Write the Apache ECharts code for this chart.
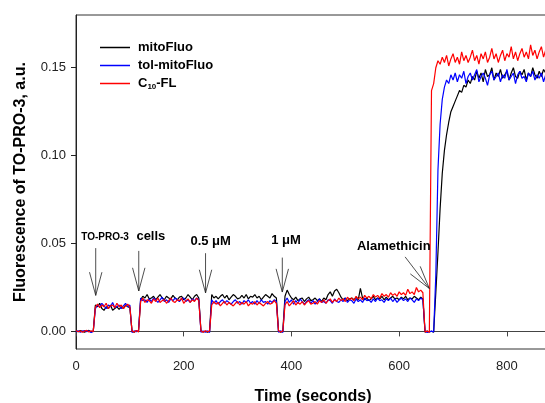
<!DOCTYPE html>
<html><head><meta charset="utf-8">
<script src="https://cdn.jsdelivr.net/npm/echarts@6/dist/echarts.min.js"></script>
<style>html,body{margin:0;padding:0;background:#fff}#c{width:545px;height:403px}</style>
</head><body><div id="c"></div>
<script>
// sampling interval of the traces (seconds between consecutive values)
const SAMPLE_STEP_S = 4;
// Fluorescence values in milli a.u. (1 = 0.001 a.u.), one value every SAMPLE_STEP_S seconds from t = 0
const mitoFluo = [
0.3,-0.2,0.5,0,-0.4,0.2,0.6,-0.3,0.1,
15,14,16,13,12,14,13,15,12,13,14,12.5,14,13,15,14,13.5,
0.2,-0.5,0.4,-0.2,
18,20,19,21,18.5,19,20,18,19.5,21,19,18,20,19,18.5,20.5,19,18,19.5,20,18,19,21,19.5,18,20,21,19,
0.4,-0.3,0.1,-0.5,0.3,
21,19,20,18.5,20,21,19,20.5,18,19.5,21,20,18.5,19,20.5,19,21,18.5,20,19.5,21,19,20,18,19.5,21,20,19,21.5,20,19,
0.2,-0.4,0.3,
20,23.5,21,19,18,19.5,17.5,18.5,19,17,18.5,19.5,17.5,18,19,17.5,18.5,17,19,18,21,22.5,20,23,24,22,19.5,18,19,17.5,
18.5,19,18,19.5,18,24.5,19,18,19,17.5,18.5,20,18,19,18.5,20,18,19.5,18,19,20,18.5,19,18,19.5,18.5,20,18,19,18.5,20,19,18,19.5,18.5,
-0.5,0.2,-0.3,
0.1,-0.4,
22,45,70,90,103,112,119,125,128,131,134,137,136,140,139,143,141,145,
143,148,144,147,142,149,145,146,150,143,147,145,149,144,146,148,143,147,150,145,144,148,146,149,143,147,145,150,146,144,148,145,149,147
];
const tolMitoFluo = [
-0.3,0.4,-0.5,0.2,0.5,-0.2,0.3,-0.6,0,
13,15,14,16,14.5,13,15,14,16.5,13.5,14,15,13,14.5,16,14,15,
-0.6,0.3,-0.2,0.5,
19,17.5,18,16.5,18.5,17,19,18,16.5,18,19.5,17,18,16.5,18.5,17.5,19,18,17,18.5,19,17,18,16.5,18.5,17.5,19,18,
-0.5,0.2,-0.4,0.3,-0.6,
18,16,17.5,15.5,17,18,16,17.5,16.5,15.5,17,18,16,17,15.5,17.5,16.5,18,16,17,15.5,17.5,16,18,16.5,17,15.5,17.5,16.5,18,17,
-0.4,0.3,-0.6,
17,19,16.5,18,15.5,17.5,16,18.5,17,15.5,17,18,16,17.5,15.5,17,18.5,16.5,17,16,18,17.5,16,18.5,17,16.5,18,17,19,16.5,
18,17.5,16,18.5,17,18,16.5,19,17.5,18,16.5,18.5,17,19,17.5,18,16.5,18.5,17.5,19,17,18.5,16.5,18,19,17.5,18.5,17,19,18,16.5,18.5,17.5,19,18,
0.3,-0.6,-0.2,
0.2,-0.3,
32,92,118,132,139,143,141,146,143,
147,142,146,144,148,141,145,147,143,146,149,142,145,147,144,140,146,148,143,145,147,142,146,144,149,143,145,147,141,146,148,144,145,142,147,145,148,143,146,144,147,142,146
];
const c10FL = [
0.5,-0.2,0.3,-0.5,0.2,0.6,-0.3,0.4,-0.1,
14,15.5,13.5,15,14,16,13,14.5,15,13.5,16,14,15,13,14.5,15.5,14,
0.3,-0.4,0.5,-0.3,
17,19,16.5,18,17.5,16,18.5,17,19,16.5,17.5,18,16,17.5,19,17,16.5,18,17.5,19,16,17.5,18.5,16.5,18,17,19,17.5,
0.2,-0.5,0.4,-0.2,0.3,
15,17,15.5,16.5,14.5,16,17,15,16.5,15.5,14.5,16,17,15,16.5,15.5,17,14.5,16,15.5,17,15,16.5,15.5,14.5,16,17,15.5,16,17.5,16,
0.4,-0.3,0.2,
15,17,14.5,16,17.5,15,16.5,15.5,17,15,16.5,17.5,15.5,16,17,15.5,17.5,16.5,18,16,17.5,18.5,16.5,18,17,19,17.5,18.5,17,19.5,
18,19,17.5,20,18.5,19.5,18,20.5,19,20,18.5,21,19.5,20.5,19,21.5,20,21,19.5,22,20.5,21.5,20,22.5,21,22,20.5,24,21.5,22.5,21,25,22.5,23.5,22,
-0.3,0.2,-0.5,
137,141,150,154,
152,156,153,157,151,155,158,153,156,152,159,154,157,153,156,160,154,157,152,158,155,159,153,156,161,155,158,153,157,160,
154,158,156,162,155,159,154,158,161,156,159,155,163,157,160,155,159,162,156,160
];
const seriesNames = ['mitoFluo', 'tol-mitoFluo', 'C10-FL'];
const seriesColors = ['#000000', '#0000ff', '#ff0000'];
const xTicks = [0, 200, 400, 600, 800];
const yTicks = [0, 0.05, 0.10, 0.15];
// annotation labels: [time s, value a.u.]
const labelTexts = ['TO-PRO-3', 'cells', '0.5 \u03bcM', '1 \u03bcM', 'Alamethicin'];
const labelPos = [[54, 0.0538], [139, 0.0538], [250, 0.0512], [390, 0.0515], [590, 0.0481]];
const labelSizes = [10, 13, 13, 13, 13];
// arrows: from [t, v] to tip [t, v]
const arrowFrom = [[36.6, 0.0474], [116.5, 0.0458], [240.5, 0.0445], [383, 0.042], [611, 0.0424]];
const arrowTo   = [[36.6, 0.0205], [116.5, 0.0230], [240.5, 0.0219], [383, 0.0224], [656, 0.0244]];

const FONT = '"Liberation Sans", Arial, sans-serif';
const toPairs = arr => arr.map((v, i) => [i * SAMPLE_STEP_S, v / 1000]);
const allData = [mitoFluo, tolMitoFluo, c10FL];

const chart = echarts.init(document.getElementById('c'), null, {renderer: 'canvas'});
chart.setOption({
  animation: false,
  backgroundColor: '#fff',
  grid: {left: 76, top: 15, width: 474, bottom: 54, outerBoundsMode: 'none', containLabel: false,
         show: true, borderColor: '#333', borderWidth: 1, backgroundColor: 'transparent'},
  legend: {
    data: seriesNames, orient: 'vertical', left: 100, top: 41, padding: 0,
    icon: 'rect', itemWidth: 30, itemHeight: 1.5, itemGap: 5,
    formatter: n => n === 'C10-FL' ? '{b|C}{s|10}{b|-FL}' : n,
    textStyle: {fontSize: 13, fontWeight: 'bold', fontFamily: FONT, color: '#000', padding: [0, 0, 0, 3],
      rich: {b: {fontSize: 13, fontWeight: 'bold', fontFamily: FONT, color: '#000'},
             s: {fontSize: 8, fontWeight: 'bold', fontFamily: FONT, color: '#000', padding: [7, 0, 0, 0]}}}
  },
  xAxis: {
    type: 'value', min: 0, max: 880,
    name: 'Time (seconds)', nameLocation: 'middle', nameGap: 40,
    nameTextStyle: {fontSize: 16, fontWeight: 'bold', fontFamily: FONT, color: '#000'},
    axisLine: {show: true, lineStyle: {color: '#444', width: 1}},
    axisTick: {show: true, length: 5, customValues: xTicks, lineStyle: {color: '#444'}},
    axisLabel: {customValues: xTicks, margin: 11, fontSize: 13, fontFamily: FONT, color: '#222'},
    splitLine: {show: false}
  },
  yAxis: {
    type: 'value', min: -0.01, max: 0.18,
    name: 'Fluorescence of TO-PRO-3, a.u.', nameLocation: 'middle', nameGap: 47,
    nameTextStyle: {fontSize: 16, fontWeight: 'bold', fontFamily: FONT, color: '#000'},
    axisLine: {show: true, lineStyle: {color: '#222', width: 1}},
    axisTick: {show: true, length: 5, customValues: yTicks, lineStyle: {color: '#222'}},
    axisLabel: {customValues: yTicks, margin: 10, fontSize: 13, fontFamily: FONT, color: '#222',
      formatter: v => v.toFixed(2)},
    splitLine: {show: false}
  },
  series: seriesNames.map((n, k) => ({
    name: n, type: 'line', data: toPairs(allData[k]), symbol: 'none', showSymbol: false,
    color: seriesColors[k], lineStyle: {width: 1.2, color: seriesColors[k]}, z: 2 + k
  }))
});

const px = p => chart.convertToPixel({seriesIndex: 0}, p);
const gfx = [];
labelTexts.forEach((t, i) => {
  const p = px(labelPos[i]);
  gfx.push({type: 'text', x: p[0], y: p[1], silent: true, z: 100,
    style: {text: t, fontSize: labelSizes[i], fontWeight: 'bold', fontFamily: FONT, fill: '#000', align: 'center', verticalAlign: 'middle'}});
});
const HEAD = 24, ANG = 15 * Math.PI / 180;
arrowFrom.forEach((f, i) => {
  const a = px(f), b = px(arrowTo[i]);
  const dx = a[0] - b[0], dy = a[1] - b[1], L = Math.hypot(dx, dy);
  const ux = dx / L, uy = dy / L;
  const st = {stroke: '#222', lineWidth: 0.8};
  gfx.push({type: 'line', silent: true, z: 100, shape: {x1: a[0], y1: a[1], x2: b[0], y2: b[1]}, style: st});
  [ANG, -ANG].forEach(g => {
    const rx = ux * Math.cos(g) - uy * Math.sin(g), ry = ux * Math.sin(g) + uy * Math.cos(g);
    gfx.push({type: 'line', silent: true, z: 100, shape: {x1: b[0], y1: b[1], x2: b[0] + rx * HEAD, y2: b[1] + ry * HEAD}, style: st});
  });
});
chart.setOption({graphic: gfx});
</script></body></html>
